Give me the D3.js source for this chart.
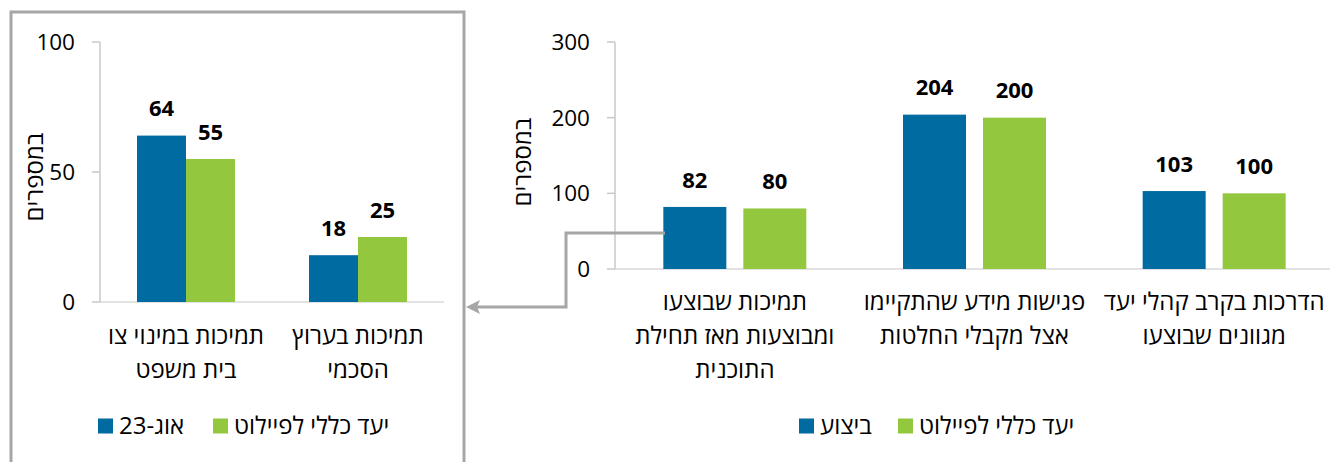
<!DOCTYPE html>
<html>
<head>
<meta charset="utf-8">
<script src="https://cdn.jsdelivr.net/npm/d3@7"></script>
<style>
  body { margin: 0; background: #fff; }
  svg text { font-family: "Open Sans", "DejaVu Sans", sans-serif; fill: #000; }
</style>
</head>
<body>
<svg id="chart" width="1330" height="462"></svg>
<script>
// left panel
var leftCategories = [['תמיכות במינוי צו', 'בית משפט'], ['תמיכות בערוץ', 'הסכמי']];
var leftActual = [64, 18];
var leftTarget = [55, 25];
var leftTicks = [0, 50, 100];
var leftSeries = ['אוג-23', 'יעד כללי לפיילוט'];

// right panel
var rightCategories = [['תמיכות שבוצעו', 'ומבוצעות מאז תחילת', 'התוכנית'], ['פגישות מידע שהתקיימו', 'אצל מקבלי החלטות'], ['הדרכות בקרב קהלי יעד', 'מגוונים שבוצעו']];
var rightActual = [82, 204, 103];
var rightTarget = [80, 200, 100];
var rightTicks = [0, 100, 200, 300];
var rightSeries = ['ביצוע', 'יעד כללי לפיילוט'];

var yTitle = 'במספרים';
var blue = '#006ba1', green = '#92c73e', gray = '#a6a6a6';
var hebSize = 24, numSize = 22, tickSize = 22.5;

var svg = d3.select('#chart');

// wrap in a right-to-left embedding so mixed text like "אוג-23" reads right
function rtl(s) { return '\u202B' + s + '\u202C'; }

function drawPanel(opt) {
  var g = svg.append('g');
  var x = d3.scaleBand().domain(d3.range(opt.categories.length)).range([opt.x0, opt.x1]);
  var y = d3.scaleLinear().domain([0, opt.max]).range([opt.y0, opt.y1]);

  // axes
  g.append('line').attr('x1', opt.x0).attr('x2', opt.x1).attr('y1', y(0)).attr('y2', y(0))
    .attr('stroke', '#d9d9d9').attr('stroke-width', 1.5);
  g.append('line').attr('x1', opt.x0).attr('x2', opt.x0).attr('y1', y(0)).attr('y2', y(opt.max))
    .attr('stroke', '#c8c8c8').attr('stroke-width', 1.5);
  opt.ticks.forEach(function (t) {
    g.append('line').attr('x1', opt.x0 - 8).attr('x2', opt.x0).attr('y1', y(t)).attr('y2', y(t))
      .attr('stroke', '#c8c8c8').attr('stroke-width', 1.5);
    g.append('text').attr('x', opt.x0 - 25).attr('y', y(t)).attr('dy', '0.35em')
      .attr('text-anchor', 'end').attr('font-size', tickSize).text(t);
  });

  g.append('text').attr('transform', 'translate(' + opt.titleX + ',' + opt.titleY + ') rotate(-90)')
    .attr('text-anchor', 'middle').attr('dy', '0.35em').attr('font-size', hebSize).text(yTitle);

  var series = [opt.actual, opt.target];
  var colors = [blue, green];
  series.forEach(function (vals, s) {
    vals.forEach(function (v, i) {
      var c = x(i) + x.bandwidth() / 2;
      var bx = s === 0 ? c - opt.gap / 2 - opt.barW : c + opt.gap / 2;
      g.append('rect').attr('x', bx).attr('y', y(v)).attr('width', opt.barW).attr('height', y(0) - y(v))
        .attr('fill', colors[s]);
      g.append('text').attr('x', bx + opt.barW / 2).attr('y', y(v) - 27).attr('dy', '0.35em')
        .attr('text-anchor', 'middle').attr('font-size', numSize).attr('font-weight', 'bold').text(v);
    });
  });

  opt.categories.forEach(function (lines, i) {
    var t = g.append('text').attr('text-anchor', 'middle').attr('font-size', hebSize);
    lines.forEach(function (l, k) {
      t.append('tspan').attr('x', x(i) + x.bandwidth() / 2).attr('y', opt.catY + k * 34).attr('dy', '0.35em').text(l);
    });
  });

  // legend
  opt.legend.forEach(function (it, k) {
    g.append('rect').attr('x', it.x).attr('y', opt.legY - 7.5).attr('width', 15).attr('height', 15).attr('fill', colors[k]);
    g.append('text').attr('x', it.x + 21).attr('y', opt.legY).attr('dy', '0.35em')
      .attr('text-anchor', 'start').attr('font-size', hebSize).text(rtl(opt.series[k]));
  });
}

drawPanel({
  categories: leftCategories, actual: leftActual, target: leftTarget, ticks: leftTicks, series: leftSeries,
  x0: 100, x1: 444, y0: 302, y1: 42, max: 100, barW: 49, gap: 0,
  titleX: 35, titleY: 177, catY: 336, legY: 426,
  legend: [{x: 98}, {x: 213}]
});

drawPanel({
  categories: rightCategories, actual: rightActual, target: rightTarget, ticks: rightTicks, series: rightSeries,
  x0: 615, x1: 1334, y0: 269, y1: 42, max: 300, barW: 63, gap: 17,
  titleX: 523, titleY: 162, catY: 302, legY: 426,
  legend: [{x: 799}, {x: 898}]
});

// frame round the left panel
svg.append('rect').attr('x', 11).attr('y', 12).attr('width', 453).attr('height', 470)
  .attr('fill', 'none').attr('stroke', gray).attr('stroke-width', 3);

// connector from the right panel to the frame
svg.append('path').attr('d', 'M665,233 H566 V307 H476')
  .attr('fill', 'none').attr('stroke', gray).attr('stroke-width', 3);
svg.append('path').attr('d', 'M466,307 L480,300 L477,307 L480,314 Z').attr('fill', gray);
</script>
</body>
</html>
